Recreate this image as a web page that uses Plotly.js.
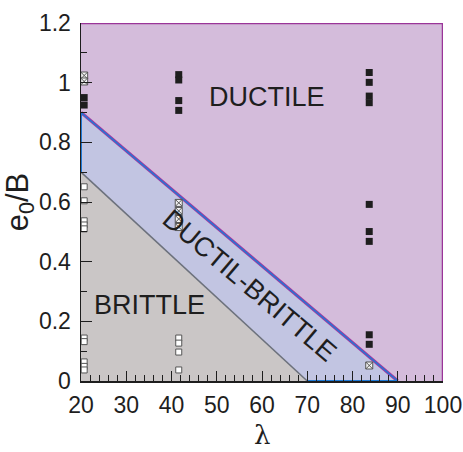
<!DOCTYPE html>
<html>
<head>
<meta charset="utf-8">
<script src="https://cdn.plot.ly/plotly-3.0.1.min.js"></script>
<style>html,body{margin:0;padding:0;background:#fff;}#chart{width:463px;height:452px;}</style>
</head>
<body>
<div id="chart"></div>
<script>
// Region boundaries (lambda, e0/B)
const ductileX = [20, 20, 100, 100, 90, 20];
const ductileY = [0.9, 1.2, 1.2, 0, 0, 0.9];
const transX = [20, 20, 90, 70, 20];
const transY = [0.7, 0.9, 0, 0, 0.7];
const brittleX = [20, 20, 70, 20];
const brittleY = [0, 0.7, 0, 0];

// Boundary lines
const upperLineX = [20, 90];
const upperLineY = [0.9, 0];
const lowerLineX = [20, 70];
const lowerLineY = [0.7, 0];
const frameX = [20, 100, 100];
const frameY = [1.2, 1.2, 0];

// Test points
const ductileTestX = [20.7, 20.7, 41.6, 41.6, 41.6, 41.6, 83.7, 83.7, 83.7, 83.7, 83.7, 83.7, 83.7, 83.7, 83.7];
const ductileTestY = [0.95, 0.925, 1.027, 1.009, 0.94, 0.907, 1.034, 1.001, 0.955, 0.933, 0.592, 0.501, 0.468, 0.155, 0.123];
const transTestX = [20.7, 20.7, 41.6, 41.6, 41.6, 41.6, 83.7];
const transTestY = [1.024, 1.004, 0.597, 0.570, 0.543, 0.516, 0.052];
const brittleTestX = [20.7, 20.7, 20.7, 20.7, 20.7, 20.7, 20.7, 20.7, 20.7, 20.7, 41.6, 41.6, 41.6, 41.6];
const brittleTestY = [0.651, 0.604, 0.537, 0.523, 0.510, 0.144, 0.132, 0.064, 0.049, 0.037, 0.144, 0.127, 0.097, 0.037];

// Labels
const labelText = ["DUCTILE", "DUCTIL-BRITTLE", "BRITTLE"];
const labelX = [61.1, 57.4, 35.1];
const labelY = [0.952, 0.32, 0.255];
const labelAngle = [0, 40.3, 0];
const xTitle = "λ";
const yTitle = "e<sub>0</sub>/B";

const font = "Liberation Sans, Arial, sans-serif";

const traces = [
  {x: ductileX, y: ductileY, type: 'scatter', mode: 'lines', fill: 'toself', fillcolor: '#d4bcdb', line: {width: 0}, hoverinfo: 'skip'},
  {x: transX, y: transY, type: 'scatter', mode: 'lines', fill: 'toself', fillcolor: '#c2c5e2', line: {width: 0}, hoverinfo: 'skip'},
  {x: brittleX, y: brittleY, type: 'scatter', mode: 'lines', fill: 'toself', fillcolor: '#cac6c6', line: {width: 0}, hoverinfo: 'skip'},
  {x: lowerLineX, y: lowerLineY, type: 'scatter', mode: 'lines', line: {color: '#6c717c', width: 1.5}, cliponaxis: false},
  {x: upperLineX, y: upperLineY, type: 'scatter', mode: 'lines', line: {color: '#a0379f', width: 3.2}, cliponaxis: false},
  {x: upperLineX, y: upperLineY, type: 'scatter', mode: 'lines', line: {color: '#1f7ad6', width: 1.4}, cliponaxis: false},
  {x: [20, 20], y: [0.7, 0.9], type: 'scatter', mode: 'lines', line: {color: '#1f7ad6', width: 2}, cliponaxis: false},
  {x: [70, 90], y: [0, 0], type: 'scatter', mode: 'lines', line: {color: '#1f7ad6', width: 2}, cliponaxis: false},
  {x: frameX, y: frameY, type: 'scatter', mode: 'lines', line: {color: '#9a3599', width: 2.5}, cliponaxis: false},
  {x: ductileTestX, y: ductileTestY, type: 'scatter', mode: 'markers', marker: {symbol: 'square', size: 7, color: '#1e1e1e', line: {width: 0}}, cliponaxis: false},
  {x: transTestX, y: transTestY, type: 'scatter', mode: 'markers', marker: {symbol: 'square-x', size: 7, color: '#f2f2f2', line: {width: 1, color: '#555'}}, cliponaxis: false},
  {x: brittleTestX, y: brittleTestY, type: 'scatter', mode: 'markers', marker: {symbol: 'square', size: 6, color: '#ffffff', line: {width: 1, color: '#555'}}, cliponaxis: false}
];

const annotations = labelText.map((t, i) => ({
  x: labelX[i], y: labelY[i], xref: 'x', yref: 'y', text: t, showarrow: false,
  textangle: labelAngle[i], font: {family: font, size: 27, color: '#1e1e1e'}
}));
annotations.push({
  x: 0.5, y: -0.151, xref: 'paper', yref: 'paper', text: xTitle, showarrow: false,
  xanchor: 'center', yanchor: 'middle',
  font: {family: 'DejaVu Serif, serif', size: 26, color: '#1e1e1e'}
});

const layout = {
  width: 463, height: 452,
  margin: {l: 81, r: 20, t: 23, b: 71, pad: 0},
  paper_bgcolor: '#ffffff', plot_bgcolor: '#ffffff',
  showlegend: false,
  font: {family: font, color: '#1e1e1e'},
  xaxis: {
    range: [20, 100], tick0: 20, dtick: 10, ticks: 'inside', ticklen: 10, tickwidth: 1, tickcolor: '#1e1e1e',
    minor: {ticks: 'inside', dtick: 2, ticklen: 6, tickcolor: '#1e1e1e', tickwidth: 1},
    showline: true, linecolor: '#1e1e1e', linewidth: 1.5, showgrid: false, zeroline: false,
    tickfont: {family: font, size: 23, color: '#1e1e1e'}, ticklabelstandoff: 3
  },
  yaxis: {
    range: [0, 1.2], tick0: 0, dtick: 0.2, ticks: 'inside', ticklen: 11, tickwidth: 1, tickcolor: '#1e1e1e',
    minor: {ticks: 'inside', dtick: 0.1, ticklen: 6, tickcolor: '#1e1e1e', tickwidth: 1},
    showline: true, linecolor: '#1e1e1e', linewidth: 1.5, showgrid: false, zeroline: false,
    tickfont: {family: font, size: 23, color: '#1e1e1e'}, ticklabelstandoff: 4,
    title: {text: yTitle, font: {family: font, size: 31, color: '#1e1e1e'}, standoff: 4}
  },
  annotations: annotations
};

Plotly.newPlot('chart', traces, layout, {staticPlot: true, displayModeBar: false});
</script>
</body>
</html>
